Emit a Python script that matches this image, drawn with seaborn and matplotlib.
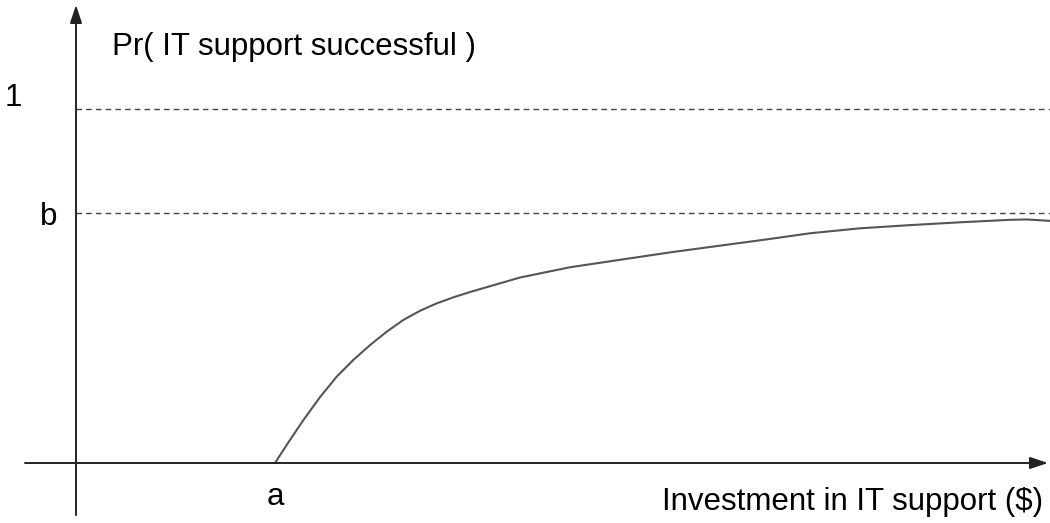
import matplotlib
matplotlib.use('Agg')
import matplotlib.pyplot as plt
import seaborn as sns
import pandas as pd

sns.set_theme(style='white')
plt.rcParams['font.family'] = ['Liberation Sans', 'DejaVu Sans']

# Curve: investment (x) vs probability of success (y)
invest = [1.99, 2.107, 2.273, 2.44, 2.607, 2.773, 2.94, 3.107, 3.273, 3.44,
          3.607, 3.773, 3.94, 4.44, 4.94, 5.44, 5.94, 6.44, 6.94, 7.34,
          7.84, 8.34, 8.84, 9.34, 9.51, 9.74]
prob = [0.0, 0.051, 0.121, 0.186, 0.244, 0.291, 0.333, 0.371, 0.404, 0.430,
        0.451, 0.468, 0.483, 0.524, 0.553, 0.574, 0.595, 0.614, 0.633, 0.649,
        0.663, 0.672, 0.680, 0.687, 0.688, 0.684]

a_val = 1.99
b_val = 0.706
one_val = 1.0

y_label = 'Pr( IT support successful )'
x_label = 'Investment in IT support ($)'

df = pd.DataFrame({'invest': invest, 'prob': prob})

fig = plt.figure(figsize=(10.5, 5.23), dpi=100)
ax = fig.add_axes([0, 0, 1, 1])
ax.set_xlim(-0.76, 9.74)
ax.set_ylim(-0.1695, 1.308)
ax.axis('off')

# dashed reference levels
for lvl in (one_val, b_val):
    ax.plot([0, 9.74], [lvl, lvl], color='#444444', lw=1.0,
            ls=(0, (4, 3)), zorder=1)

sns.lineplot(data=df, x='invest', y='prob', ax=ax, color='#555555',
             lw=1.5, sort=False, zorder=2)

# axes with arrows
arrow = dict(arrowstyle='-|>,head_length=0.9,head_width=0.3',
             color='#222222', lw=1.4, shrinkA=0, shrinkB=0)
ax.annotate('', xy=(9.72, 0), xytext=(-0.51, 0), arrowprops=arrow)
ax.annotate('', xy=(0, 1.294), xytext=(0, -0.147), arrowprops=arrow)

# labels
fs = 22.5
ax.text(-0.63, 1.03, '1', fontsize=fs, ha='center', va='center', color='black')
ax.text(-0.275, 0.695, 'b', fontsize=fs, ha='center', va='center', color='black')
ax.text(a_val, -0.095, 'a', fontsize=fs, ha='center', va='center', color='black')
ax.text(0.36, 1.175, y_label, fontsize=fs, ha='left', va='center', color='black')
ax.text(9.67, -0.11, x_label, fontsize=fs, ha='right', va='center', color='black')

fig.savefig('out.png', dpi=100)
plt.close()
